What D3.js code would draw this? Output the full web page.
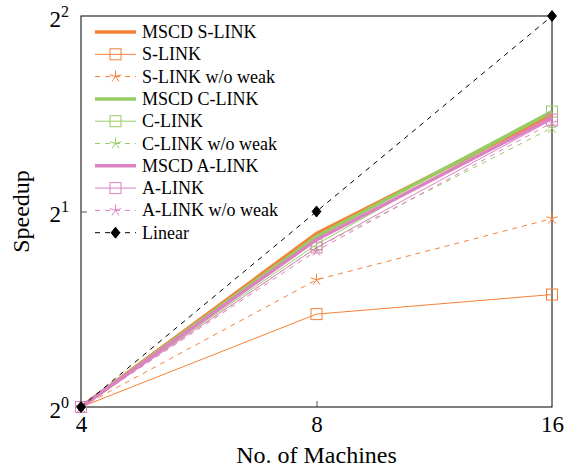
<!DOCTYPE html>
<html>
<head>
  <script type="text/javascript" src="https://cdn.jsdelivr.net/npm/d3@7"></script>
  <title>Speedup</title>
  <style>
    body { margin: 0; background: #fff; }
    svg text { font-family: "Liberation Serif", "Times New Roman", serif; }
  </style>
</head>
<body>
<svg width="571" height="470" font-family="Liberation Serif"></svg>
<script>
  var machines = [4, 8, 16];
  var xTicks = [4, 8, 16];
  var yTicks = [1, 2, 4];
  var yTickPowers = ["0", "1", "2"];

  var mscdSLink = [1, 1.85, 2.82];
  var sLink = [1, 1.39, 1.49];
  var sLinkNoWeak = [1, 1.57, 1.95];
  var mscdCLink = [1, 1.83, 2.85];
  var cLink = [1, 1.78, 2.85];
  var cLinkNoWeak = [1, 1.76, 2.69];
  var mscdALink = [1, 1.81, 2.79];
  var aLink = [1, 1.76, 2.77];
  var aLinkNoWeak = [1, 1.74, 2.74];
  var linear = [1, 2, 4];

  var orange = "#f58137", green = "#97cc64", pink = "#dc82c0";

  var series = [
    { name: "MSCD S-LINK", values: mscdSLink, color: orange, width: 3.5 },
    { name: "S-LINK", values: sLink, color: orange, width: 1, marker: "square" },
    { name: "S-LINK w/o weak", values: sLinkNoWeak, color: orange, width: 1, dash: "5,5", marker: "star" },
    { name: "MSCD C-LINK", values: mscdCLink, color: green, width: 3.5 },
    { name: "C-LINK", values: cLink, color: green, width: 1, marker: "square" },
    { name: "C-LINK w/o weak", values: cLinkNoWeak, color: green, width: 1, dash: "5,5", marker: "star" },
    { name: "MSCD A-LINK", values: mscdALink, color: pink, width: 3.5 },
    { name: "A-LINK", values: aLink, color: pink, width: 1, marker: "square" },
    { name: "A-LINK w/o weak", values: aLinkNoWeak, color: pink, width: 1, dash: "5,5", marker: "star" },
    { name: "Linear", values: linear, color: "#000", width: 1, dash: "5,5", marker: "diamond" }
  ];

  // plot box
  var plotLeft = 81, plotRight = 552, plotTop = 16, plotBottom = 407;

  var x = d3.scaleLog().base(2).domain([4, 16]).range([plotLeft, plotRight]);
  var y = d3.scaleLog().base(2).domain([1, 4]).range([plotBottom, plotTop]);

  var svg = d3.select("svg");

  svg.append("rect")
      .attr("x", plotLeft).attr("y", plotTop)
      .attr("width", plotRight - plotLeft).attr("height", plotBottom - plotTop)
      .attr("fill", "none").attr("stroke", "#000").attr("stroke-width", 1);

  // x ticks, pointing inward
  var xAxis = svg.append("g")
      .attr("transform", "translate(0," + plotBottom + ")")
      .call(d3.axisBottom(x).tickValues(xTicks).tickSizeInner(-6).tickSizeOuter(0)
        .tickFormat(d3.format("d")));
  xAxis.attr("font-family", "Liberation Serif").attr("font-size", 23);
  xAxis.select(".domain").remove();
  xAxis.selectAll("line").attr("stroke", "#555");
  xAxis.selectAll("text").attr("fill", "#000").attr("y", 25).attr("dy", null);
  xAxis.selectAll(".tick").filter(function(d) { return d === 4 || d === 16; }).select("line").remove();

  // y ticks, pointing inward
  var yAxis = svg.append("g")
      .attr("transform", "translate(" + plotLeft + ",0)")
      .call(d3.axisLeft(y).tickValues(yTicks).tickSizeInner(-6).tickSizeOuter(0).tickFormat(""));
  yAxis.select(".domain").remove();
  yAxis.selectAll("line").attr("stroke", "#555");
  yAxis.selectAll(".tick").filter(function(d) { return d === 1 || d === 4; }).select("line").remove();

  yTicks.forEach(function(v, i) {
    var t = svg.append("text")
        .attr("x", plotLeft - 12).attr("y", y(v) + 10.5)
        .attr("text-anchor", "end")
        .attr("font-size", 23).attr("fill", "#000");
    t.append("tspan").text("2");
    t.append("tspan").attr("dy", -10).attr("font-size", 16).text(yTickPowers[i]);
  });

  svg.append("text")
      .attr("x", (plotLeft + plotRight) / 2).attr("y", 463)
      .attr("text-anchor", "middle").attr("font-size", 24)
      .text("No. of Machines");
  svg.append("text")
      .attr("transform", "translate(29," + ((plotTop + plotBottom) / 2) + ") rotate(-90)")
      .attr("text-anchor", "middle").attr("font-size", 24)
      .text("Speedup");

  var line = d3.line()
      .x(function(d, i) { return x(machines[i]); })
      .y(function(d) { return y(d); });

  function drawMarker(g, kind, cx, cy, color) {
    if (kind === "square") {
      g.append("rect")
          .attr("x", cx - 5.5).attr("y", cy - 5.5)
          .attr("width", 11).attr("height", 11)
          .attr("fill", "none").attr("stroke", color).attr("stroke-width", 1);
    } else if (kind === "star") {
      var r = 6, p = [];
      for (var k = 0; k < 5; k++) {
        var a = -Math.PI / 2 + k * 2 * Math.PI / 5;
        p.push("M", cx, cy, "L", cx + r * Math.cos(a), cy + r * Math.sin(a));
      }
      g.append("path").attr("d", p.join(" "))
          .attr("fill", "none").attr("stroke", color).attr("stroke-width", 1);
    } else if (kind === "diamond") {
      var s = 5.5;
      g.append("path")
          .attr("d", ["M", cx, cy - s, "L", cx + s * 0.8, cy, "L", cx, cy + s, "L", cx - s * 0.8, cy, "Z"].join(" "))
          .attr("fill", color).attr("stroke", color).attr("stroke-width", 1);
    }
  }

  series.forEach(function(s) {
    var g = svg.append("g");
    g.append("path")
        .attr("d", line(s.values))
        .attr("fill", "none")
        .attr("stroke", s.color)
        .attr("stroke-width", s.width)
        .attr("stroke-dasharray", s.dash || null);
    if (s.marker) {
      s.values.forEach(function(v, i) {
        drawMarker(g, s.marker, x(machines[i]), y(v), s.color);
      });
    }
  });

  // legend, no box
  var legend = svg.append("g");
  series.forEach(function(s, i) {
    var ly = 32 + i * 22.3;
    var g = legend.append("g");
    g.append("line")
        .attr("x1", 95).attr("x2", 136)
        .attr("y1", ly).attr("y2", ly)
        .attr("stroke", s.color).attr("stroke-width", s.width)
        .attr("stroke-dasharray", s.dash || null);
    if (s.marker) drawMarker(g, s.marker, 115.5, ly, s.color);
    g.append("text")
        .attr("x", 142).attr("y", ly + 6)
        .attr("font-size", 18).attr("fill", "#000")
        .text(s.name);
  });
</script>
</body>
</html>
